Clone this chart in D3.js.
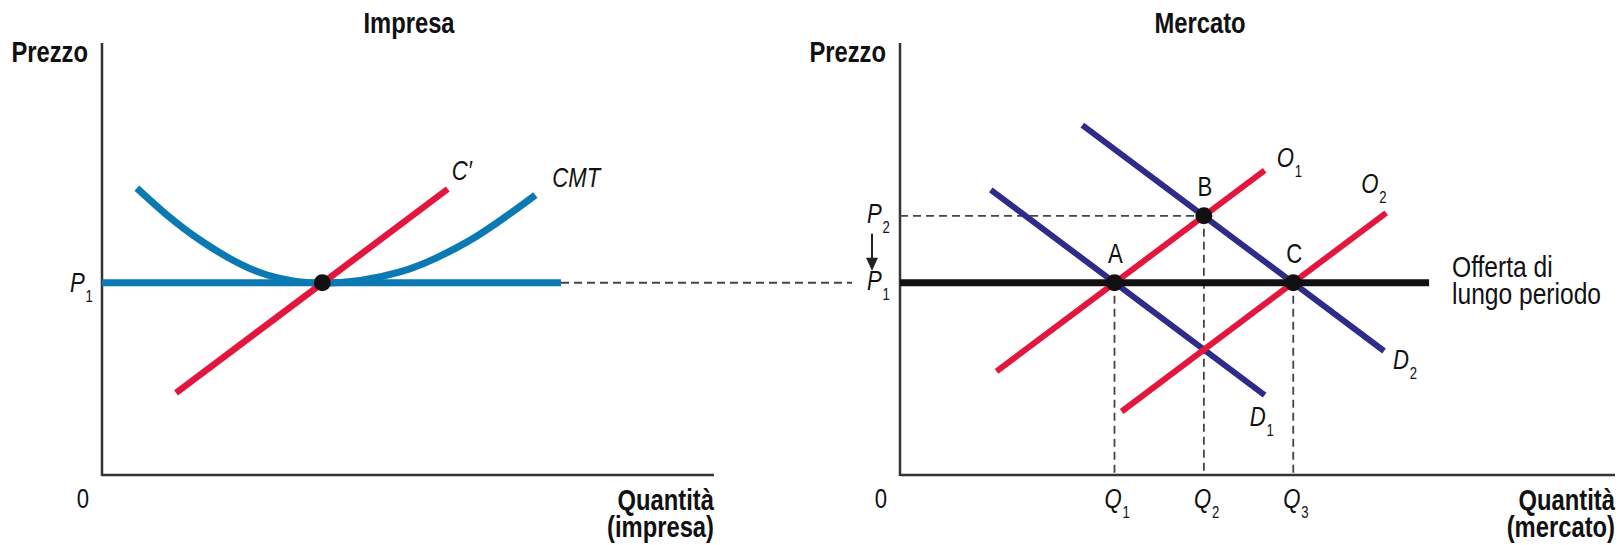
<!DOCTYPE html>
<html>
<head>
<meta charset="utf-8">
<script src="https://cdn.jsdelivr.net/npm/d3@7"></script>
<style>
  html, body { margin: 0; padding: 0; background: #fff; }
  svg text { font-family: "Liberation Sans", Arial, sans-serif; fill: #111; }
</style>
</head>
<body>
<svg id="chart" width="1623" height="545"></svg>
<script>
// ---- data (price and quantity in arbitrary units 0-100) ----
const priceP1 = 44.5;
const priceP2 = 60;

// firm panel
const firmCMT = [[5.7, 66.4], [10.6, 60.2], [16, 54.4], [27, 46.3], [36, 44.4], [48.7, 47], [59.6, 53.9], [70.8, 64.8]];
const firmMC = [[12.1, 19], [56.5, 66.2]];
const firmPriceLine = [[0, priceP1], [75, priceP1]];
const firmEquilibrium = [[36, priceP1]];

// market panel
const supplyO1 = [[13.5, 24], [51, 70.5]];
const supplyO2 = [[31, 14.7], [68, 60.7]];
const demandD1 = [[12.7, 66], [51, 18.5]];
const demandD2 = [[25.5, 81], [67.7, 28.7]];
const longRunSupply = [[0, priceP1], [74, priceP1]];
const marketPoints = [
  { name: "A", q: 30, p: priceP1 },
  { name: "B", q: 42.5, p: priceP2 },
  { name: "C", q: 55, p: priceP1 }
];
const quantityTicks = [
  { label: "Q", sub: "1", q: 30, p: priceP1 },
  { label: "Q", sub: "2", q: 42.5, p: priceP2 },
  { label: "Q", sub: "3", q: 55, p: priceP1 }
];
const priceTicks = [
  { label: "P", sub: "2", p: priceP2 },
  { label: "P", sub: "1", p: priceP1 }
];

const blue = "#0b79b2", red = "#e3173e", navy = "#2e2b89";
const narrow = 0.82; // squeeze to look like a condensed face

const svg = d3.select("#chart");

const yPrice = d3.scaleLinear().domain([0, 100]).range([475, 43]);
const xFirm = d3.scaleLinear().domain([0, 100]).range([102, 714]);
const xMarket = d3.scaleLinear().domain([0, 100]).range([900, 1615]);

const lineFirm = d3.line().x(d => xFirm(d[0])).y(d => yPrice(d[1]));
const lineMarket = d3.line().x(d => xMarket(d[0])).y(d => yPrice(d[1]));

// condensed text at (x, y); an array gives several lines
function txt(g, x, y, str, size, opts = {}) {
  const t = g.append("text")
    .attr("transform", `translate(${x},${y}) scale(${narrow},1)`)
    .attr("text-anchor", opts.anchor || "start")
    .style("font-size", size + "px");
  if (opts.bold) t.style("font-weight", "bold");
  if (opts.italic) t.style("font-style", "italic");
  if (Array.isArray(str)) {
    str.forEach((s, i) => t.append("tspan").attr("x", 0).attr("dy", i ? opts.lh : 0).text(s));
  } else if (str !== null) t.text(str);
  return t;
}

// italic letter with a small subscript
function subLabel(g, x, y, label, sub) {
  const t = txt(g, x, y, null, 27, { italic: true });
  t.append("tspan").text(label);
  t.append("tspan").attr("dy", 10).attr("dx", 1)
    .style("font-size", "16px").style("font-style", "normal").text(sub);
  return t;
}

function axes(g, x, title, qLabel, titleX) {
  const x0 = x.range()[0], x1 = x.range()[1];
  g.append("line").attr("x1", x0).attr("x2", x0).attr("y1", yPrice(100)).attr("y2", yPrice(0) + 1)
    .attr("stroke", "#333").attr("stroke-width", 2.5);
  g.append("line").attr("x1", x0).attr("x2", x1).attr("y1", yPrice(0)).attr("y2", yPrice(0))
    .attr("stroke", "#333").attr("stroke-width", 2.5);
  txt(g, x0 - 14, 62, "Prezzo", 29, { anchor: "end", bold: true });
  txt(g, titleX, 33, title, 29, { anchor: "middle", bold: true });
  txt(g, x0 - 19, 508, "0", 27, { anchor: "middle" });
  txt(g, x1, 510, ["Quantità", qLabel], 29, { anchor: "end", bold: true, lh: 27 });
}

// ---------- firm ----------
const gF = svg.append("g");
axes(gF, xFirm, "Impresa", "(impresa)", 409);

// dashed link from firm price to market price
gF.append("line")
  .attr("x1", xFirm(firmPriceLine[1][0])).attr("x2", 852)
  .attr("y1", yPrice(priceP1)).attr("y2", yPrice(priceP1))
  .attr("stroke", "#444").attr("stroke-width", 1.8).attr("stroke-dasharray", "8,5");

gF.append("path").datum(firmPriceLine).attr("d", lineFirm)
  .attr("fill", "none").attr("stroke", blue).attr("stroke-width", 7);
gF.append("path").datum(firmCMT).attr("d", lineFirm.curve(d3.curveMonotoneX))
  .attr("fill", "none").attr("stroke", blue).attr("stroke-width", 7);
lineFirm.curve(d3.curveLinear);
gF.append("path").datum(firmMC).attr("d", lineFirm)
  .attr("fill", "none").attr("stroke", red).attr("stroke-width", 6.5);
gF.selectAll("circle").data(firmEquilibrium).join("circle")
  .attr("cx", d => xFirm(d[0])).attr("cy", d => yPrice(d[1])).attr("r", 8.5).attr("fill", "#111");

subLabel(gF, 70, yPrice(priceP1) + 9, "P", "1");
txt(gF, xFirm(firmMC[1][0]) + 4, yPrice(firmMC[1][1]) - 9, "C′", 27, { italic: true });
const cmtEnd = firmCMT[firmCMT.length - 1];
txt(gF, xFirm(cmtEnd[0]) + 17, yPrice(cmtEnd[1]) - 8, "CMT", 27, { italic: true });

// ---------- market ----------
const gM = svg.append("g");
axes(gM, xMarket, "Mercato", "(mercato)", 1200);

// guide lines
gM.append("line")
  .attr("x1", xMarket(0)).attr("x2", xMarket(marketPoints[1].q))
  .attr("y1", yPrice(priceP2)).attr("y2", yPrice(priceP2))
  .attr("stroke", "#444").attr("stroke-width", 1.8).attr("stroke-dasharray", "8,5");
gM.selectAll("line.qguide").data(quantityTicks).join("line")
  .attr("class", "qguide")
  .attr("x1", d => xMarket(d.q)).attr("x2", d => xMarket(d.q))
  .attr("y1", d => yPrice(d.p)).attr("y2", yPrice(0))
  .attr("stroke", "#444").attr("stroke-width", 1.8).attr("stroke-dasharray", "8,5");

[demandD1, demandD2].forEach(d => {
  gM.append("path").datum(d).attr("d", lineMarket)
    .attr("fill", "none").attr("stroke", navy).attr("stroke-width", 6);
});
[supplyO1, supplyO2].forEach(d => {
  gM.append("path").datum(d).attr("d", lineMarket)
    .attr("fill", "none").attr("stroke", red).attr("stroke-width", 6);
});
gM.append("path").datum(longRunSupply).attr("d", lineMarket)
  .attr("fill", "none").attr("stroke", "#111").attr("stroke-width", 7);

gM.selectAll("circle").data(marketPoints).join("circle")
  .attr("cx", d => xMarket(d.q)).attr("cy", d => yPrice(d.p)).attr("r", 8.5).attr("fill", "#111");
marketPoints.forEach(d => txt(gM, xMarket(d.q) + 1, yPrice(d.p) - 20, d.name, 27, { anchor: "middle" }));

// price and quantity labels
priceTicks.forEach(d => subLabel(gM, 867, yPrice(d.p) + 7, d.label, d.sub));
quantityTicks.forEach(d => subLabel(gM, xMarket(d.q) - 10, 508, d.label, d.sub));

// arrow P2 -> P1
const ax = 872, ay0 = yPrice(priceP2) + 18, ay1 = yPrice(priceP1) - 12;
gM.append("line").attr("x1", ax).attr("x2", ax).attr("y1", ay0).attr("y2", ay1 - 10)
  .attr("stroke", "#222").attr("stroke-width", 2);
gM.append("path").attr("d", `M${ax - 6},${ay1 - 13} L${ax + 6},${ay1 - 13} L${ax},${ay1} Z`).attr("fill", "#222");

// curve labels
subLabel(gM, xMarket(supplyO1[1][0]) + 12, yPrice(supplyO1[1][1]) - 3, "O", "1");
subLabel(gM, xMarket(supplyO2[1][0]) - 25, yPrice(supplyO2[1][1]) - 20, "O", "2");
subLabel(gM, xMarket(demandD1[1][0]) - 15, yPrice(demandD1[1][1]) + 31, "D", "1");
subLabel(gM, xMarket(demandD2[1][0]) + 9, yPrice(demandD2[1][1]) + 18, "D", "2");

txt(gM, 1452, 277, ["Offerta di", "lungo periodo"], 30, { lh: 27 });
</script>
</body>
</html>
